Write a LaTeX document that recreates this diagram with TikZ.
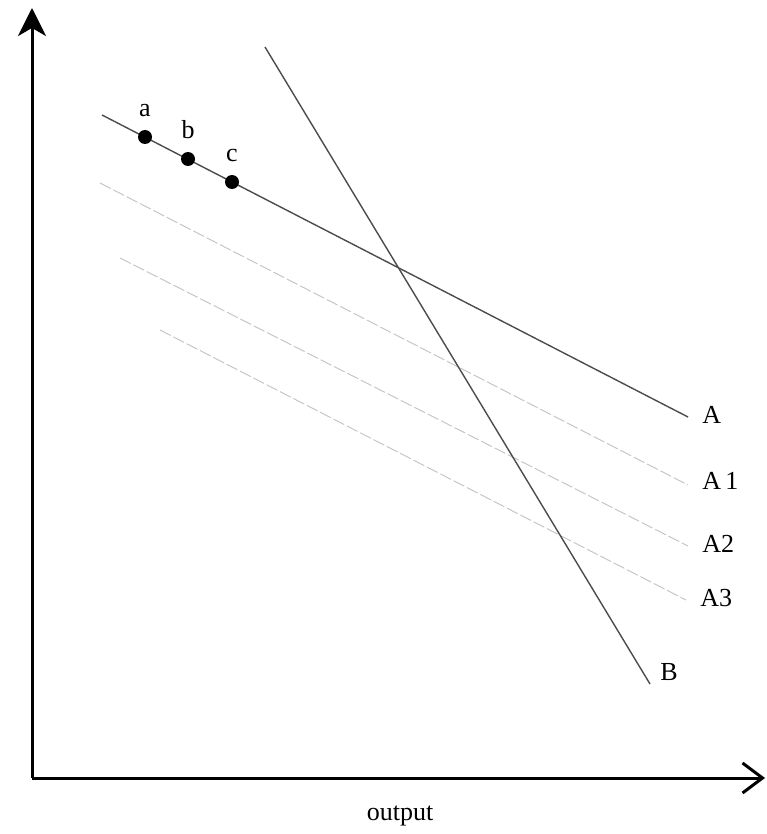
\documentclass[tikz,border=0pt]{standalone}
\usepackage{fontspec}
\setmainfont{Liberation Serif}
\usetikzlibrary{arrows.meta,positioning}

\begin{document}
\begin{tikzpicture}[x=0.5pt, y=-0.5pt, font=\fontsize{13}{15}\selectfont,
 axis/.style={line width=1.5pt},
 curve/.style={line width=0.7pt, black!70},
 shifted/.style={line width=0.5pt, gray!45, dash pattern=on 6pt off 1.5pt},
 pt/.style={circle, fill=black, inner sep=0pt, minimum size=7pt},
 lbl/.style={inner sep=1pt}]

 \useasboundingbox (0,0) rectangle (766,834);

 % --- axes ---
 \coordinate (origin) at (32,778);
 \coordinate (ytop) at (32,8);
 \coordinate (xend) at (765,778);
 \draw[axis, -{Stealth[length=14pt, width=14pt, inset=4pt]}] (origin) -- (ytop);
 \draw[axis, -{Straight Barb[length=10pt, width=15pt]}] (origin) -- (xend);
 \node[lbl] (xlab) at (400,816) {output};

 % --- line A with points a, b, c ---
 \coordinate (astart) at (102,115);
 \coordinate (aend) at (688,417);
 \draw[curve] (astart) -- (aend);
 \node[pt] (pa) at (145,137) {};
 \node[pt] (pb) at (188,159) {};
 \node[pt] (pc) at (232,182) {};
 \node[lbl, above=5pt of pa] {a};
 \node[lbl, above=5pt of pb] {b};
 \node[lbl, above=5pt of pc] {c};
 \node[lbl, right=6pt of aend, yshift=1pt] (la) {A};

 % --- shifted lines A1, A2, A3 ---
 \coordinate (a1start) at (100,183);
 \coordinate (a1end) at (688,485);
 \coordinate (a2start) at (120,258);
 \coordinate (a2end) at (688,546);
 \coordinate (a3start) at (160,330);
 \coordinate (a3end) at (686,600);
 \draw[shifted] (a1start) -- (a1end);
 \draw[shifted] (a2start) -- (a2end);
 \draw[shifted] (a3start) -- (a3end);
 \node[lbl, right=6pt of a1end, yshift=2pt] (la1) {A\,1};
 \node[lbl, right=6pt of a2end, yshift=1pt] (la2) {A2};
 \node[lbl, right=6pt of a3end, yshift=1pt] (la3) {A3};

 % --- line B ---
 \coordinate (bstart) at (265,47);
 \coordinate (bend) at (650,684);
 \draw[curve] (bstart) -- (bend);
 \node[lbl, right=4pt of bend, yshift=6pt] (lb) {B};
\end{tikzpicture}
\end{document}
